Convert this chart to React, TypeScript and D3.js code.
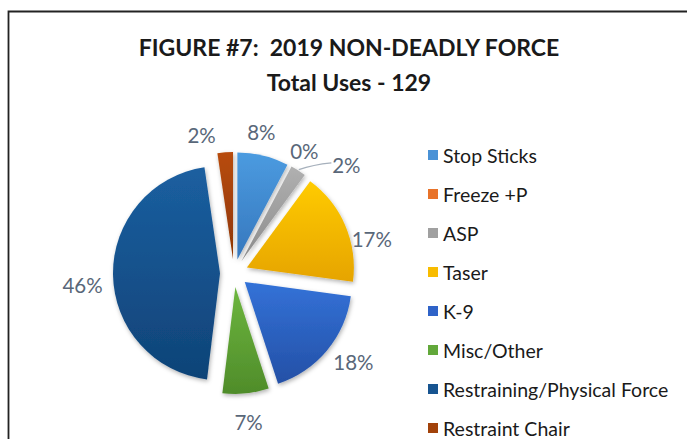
import React from "react";
import * as d3 from "d3";

const categories = ["Stop Sticks", "Freeze +P", "ASP", "Taser", "K-9", "Misc/Other", "Restraining/Physical Force", "Restraint Chair"];
const counts = [10, 0, 3, 22, 23, 9, 59, 3];
const titleLines = ["FIGURE #7:  2019 NON-DEADLY FORCE", "Total Uses - 129"];

// styles
const topColors = ["#4B9BE0", "#F07A2A", "#B0B0B0", "#FFCB05", "#3372D8", "#6DB63E", "#1B5FA0", "#B84C0C"];
const bottomColors = ["#3677BD", "#C85F18", "#8C8C8C", "#E6A400", "#2450A6", "#4F8C2A", "#0F4377", "#8E3505"];
const legendColors = ["#4A92D6", "#E8732A", "#A0A0A0", "#F8BC00", "#2F63C8", "#62A83A", "#175490", "#A2420A"];
// label placement nudges (degrees, radius)
const labelAngleShift = [-3, 2, 14, 9, -3, 0, -4, -9];
const labelRadius = [144, 141, 156, 142, 149, 150, 152, 142];

export default function App() {
  const W = 687, H = 439;
  const cx = 234, cy = 273, r = 107, explode = 14;
  const total = d3.sum(counts);
  const pie = d3.pie<number>().sort(null).value(d => d);
  const arcs = pie(counts);
  const arcGen = d3.arc<d3.PieArcDatum<number>>().innerRadius(0).outerRadius(r);
  const fmt = (v: number) => `${Math.round((v / total) * 100)}%`;
  const legendY = d3.scalePoint<string>().domain(categories).range([155, 428]);
  const font = "Lato, 'Open Sans', sans-serif";

  return (
    <svg width={W} height={H} style={{ position: "absolute", left: 0, top: 0, background: "#fff" }}>
      <defs>
        {categories.map((c, i) => (
          <linearGradient key={c} id={`g${i}`} x1="0" y1="0" x2="0" y2="1">
            <stop offset="0%" stopColor={topColors[i]} />
            <stop offset="100%" stopColor={bottomColors[i]} />
          </linearGradient>
        ))}
        <filter id="shadow" x="-20%" y="-20%" width="140%" height="140%">
          <feDropShadow dx="1" dy="2" stdDeviation="2" floodColor="#000" floodOpacity="0.3" />
        </filter>
      </defs>
      <path d={`M8.5,${H + 5} V11.5 H${W + 5}`} fill="none" stroke="#222" strokeWidth={1.8} />
      {titleLines.map((t, i) => (
        <text key={t} x={349} y={56 + i * 35} textAnchor="middle" fontFamily={font} fontWeight={700}
          fontSize={23} fill="#1a1a1a" style={{ whiteSpace: "pre" }}>{t}</text>
      ))}
      <g transform={`translate(${cx},${cy})`}>
        {arcs.map((a, i) => {
          if (a.value === 0) return null;
          const mid = (a.startAngle + a.endAngle) / 2;
          const dx = Math.sin(mid) * explode, dy = -Math.cos(mid) * explode;
          return (
            <path key={i} d={arcGen(a) || ""} transform={`translate(${dx},${dy})`}
              fill={`url(#g${i})`} filter="url(#shadow)" />
          );
        })}
        {arcs.map((a, i) => {
          const mid = (a.startAngle + a.endAngle) / 2 + (labelAngleShift[i] * Math.PI) / 180;
          const lr = labelRadius[i];
          const x = Math.sin(mid) * lr, y = -Math.cos(mid) * lr;
          let leader = null;
          if (i === 2) {
            const m0 = (a.startAngle + a.endAngle) / 2;
            const px = Math.sin(m0) * (r + explode + 1), py = -Math.cos(m0) * (r + explode + 1);
            leader = <path d={`M${px},${py} Q${px + 14},${py - 5} ${x - 15},${y - 2}`} fill="none" stroke="#A6B0BC" strokeWidth={1.2} />;
          }
          return (
            <g key={`l${i}`}>
              {leader}
              <text x={x} y={y} textAnchor="middle" dominantBaseline="central" fontFamily={font}
                fontSize={20.5} fill="#596779">{fmt(a.value)}</text>
            </g>
          );
        })}
      </g>
      {categories.map((c, i) => (
        <g key={c} transform={`translate(428,${legendY(c)})`}>
          <rect x={0} y={-5} width={10} height={10} fill={legendColors[i]} />
          <text x={15} y={0} dominantBaseline="central" fontFamily={font} fontSize={19.5} fill="#1a1a1a">{c}</text>
        </g>
      ))}
    </svg>
  );
}
